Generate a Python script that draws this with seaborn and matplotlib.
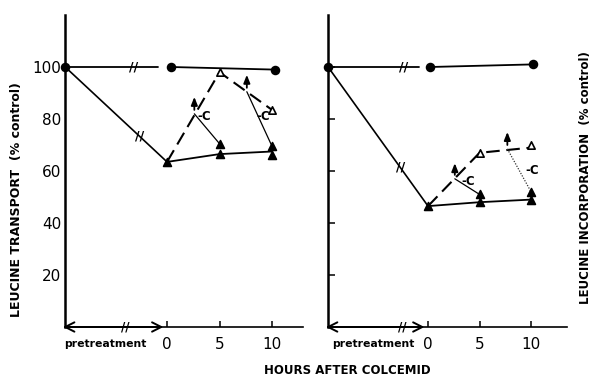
import matplotlib
matplotlib.use("Agg")
import matplotlib.pyplot as plt
import seaborn as sns

sns.set_theme(style="white")
plt.rcParams['font.family'] = ['DejaVu Sans']

# ---------------- data ----------------
PRE = -9.7                      # schematic position of the pretreatment point
hour_ticks = [0, 5, 10]
hour_labels = ["0", "5", "10"]
y_ticks = [20, 40, 60, 80, 100]
y_labels = ["20", "40", "60", "80", "100"]

# Left panel: leucine transport (% control)
L_ctrl_pre_x, L_ctrl_pre_y = [PRE, -0.9], [100, 100]
L_ctrl_x, L_ctrl_y = [0.4, 10.3], [100, 99]
L_colc_pre_x, L_colc_pre_y = [PRE, 0], [100, 63.5]
L_colc_x, L_colc_y = [0, 5, 10], [63.5, 66.5, 67.5]
L_rec_x, L_rec_y = [0, 5, 10], [63.5, 98, 83.5]
L_c1_x, L_c1_y = [2.6, 5], [82, 70.5]
L_c2_x, L_c2_y = [7.6, 10], [90.5, 69.5]
L_circ_x, L_circ_y = [PRE, 0.4, 10.3], [100, 100, 99]
L_ftri_x, L_ftri_y = [0, 5, 5, 10, 10], [63.5, 66.5, 70.5, 66, 69.5]
L_otri_x, L_otri_y = [5, 10], [98, 83.5]
L_arrow_x, L_arrow_y0, L_arrow_y1 = [2.6, 7.6], [83.5, 92], [88.5, 97]
L_minusC_x, L_minusC_y = [3.5, 9.2], [81, 81]
L_break_x, L_break_y = [-3.2, -2.6], [100, 73.3]
L_axis_break = -4.0
L_xmax = 12.95

# Right panel: leucine incorporation (% control)
R_ctrl_pre_x, R_ctrl_pre_y = [PRE, -0.9], [100, 100]
R_ctrl_x, R_ctrl_y = [0.2, 10.2], [100, 101]
R_colc_pre_x, R_colc_pre_y = [PRE, 0], [100, 46.5]
R_colc_x, R_colc_y = [0, 5, 10], [46.5, 48, 49]
R_rec_x, R_rec_y = [0, 5, 10], [46.5, 67, 69]
R_c1_x, R_c1_y = [2.6, 5], [57, 51]
R_c2_x, R_c2_y = [7.7, 10], [68.5, 52]
R_circ_x, R_circ_y = [PRE, 0.2, 10.2], [100, 100, 101]
R_ftri_x, R_ftri_y = [0, 5, 5, 10, 10], [46.5, 48, 51, 49, 52]
R_otri_x, R_otri_y = [5, 10], [67, 70]
R_arrow_x, R_arrow_y0, R_arrow_y1 = [2.6, 7.7], [58.5, 70], [63, 75]
R_minusC_x, R_minusC_y = [3.9, 10.1], [56, 60]
R_break_x, R_break_y = [-2.4, -2.7], [100, 61.4]
R_axis_break = -2.5
R_xmax = 13.5

# ---------------- figure ----------------
W, H = 593, 380
fig = plt.figure(figsize=(W / 100, H / 100), dpi=100)
axL = fig.add_axes([65.2 / W, 53 / H, 237.8 / W, 312 / H])
axR = fig.add_axes([328.1 / W, 53 / H, 239.0 / W, 312 / H])


def line(ax, x, y, lw=1.2, ls='-', color='black'):
    sns.lineplot(x=x, y=y, ax=ax, color=color, sort=False, estimator=None,
                 linewidth=lw, linestyle=ls, clip_on=False, zorder=3)


def points(ax, x, y, marker, face, s):
    sns.scatterplot(x=x, y=y, ax=ax, marker=marker, s=s, color=face,
                    edgecolor='black', linewidth=1.2, zorder=6, clip_on=False)


def panel(ax, d, xmax, left_labels):
    ax.set_xlim(PRE, xmax)
    ax.set_ylim(0, 120)
    dash = (0, (6.5, 3.2))
    line(ax, d['ctrl_pre_x'], d['ctrl_pre_y'], lw=1.3)
    line(ax, d['ctrl_x'], d['ctrl_y'], lw=1.3)
    line(ax, d['colc_pre_x'], d['colc_pre_y'], lw=1.2)
    line(ax, d['colc_x'], d['colc_y'], lw=1.3)
    line(ax, d['rec_x'], d['rec_y'], lw=1.5, ls=dash)
    line(ax, d['c1_x'], d['c1_y'], lw=0.9)
    line(ax, d['c2_x'], d['c2_y'], lw=d['c2_lw'], ls=d['c2_ls'], color=d['c2_col'])
    points(ax, d['circ_x'], d['circ_y'], 'o', 'black', 32)
    points(ax, d['ftri_x'], d['ftri_y'], '^', 'black', 32)
    points(ax, d['otri_x'], d['otri_y'], '^', 'white', 28)
    for x, y0, y1 in zip(d['arrow_x'], d['arrow_y0'], d['arrow_y1']):
        ax.annotate('', xy=(x, y1), xytext=(x, y0),
                    arrowprops=dict(arrowstyle='-|>,head_length=0.4,head_width=0.16',
                                    color='black', lw=1.3, shrinkA=0, shrinkB=0))
    for x, y in zip(d['minusC_x'], d['minusC_y']):
        ax.text(x, y, '-C', ha='center', va='center', fontsize=8.5,
                fontweight='bold', color='black', zorder=7)
    for x, y in zip(d['break_x'], d['break_y']):
        ax.text(x, y, '//', ha='center', va='center', fontsize=9,
                fontweight='bold', color='black', zorder=7)
    ax.text(d['axis_break'], 0, '//', ha='center', va='center', fontsize=8.5,
            fontweight='bold', color='black', zorder=7, clip_on=False)
    # double-headed arrow along the pretreatment segment
    ax.annotate('', xy=(-0.35, 0), xytext=(PRE - 0.2, 0), annotation_clip=False,
                arrowprops=dict(arrowstyle='<->,head_length=0.55,head_width=0.28',
                                color='black', lw=1.4, shrinkA=0, shrinkB=0))
    ax.text(d['pre_label_x'], -6.4, 'pretreatment', ha='center', va='center',
            fontsize=7.8, fontweight='bold', color='black')

    for side in ['top', 'right']:
        ax.spines[side].set_visible(False)
    ax.spines['left'].set_linewidth(1.8)
    ax.spines['bottom'].set_linewidth(1.2)
    ax.spines['left'].set_color('black')
    ax.spines['bottom'].set_color('black')
    ax.set_xticks(hour_ticks)
    ax.set_xticklabels(hour_labels, fontsize=11)
    ax.tick_params(axis='x', direction='in', length=4, width=1.1, pad=7,
                   colors='black', bottom=True)
    ax.set_yticks(y_ticks)
    if left_labels:
        ax.set_yticklabels(y_labels, fontsize=11)
        ax.tick_params(axis='y', length=0, pad=3, colors='black', left=True)
    else:
        ax.set_yticklabels([])
        ax.tick_params(axis='y', direction='in', length=5, width=1.1,
                       colors='black', left=True)
    ax.set_xlabel('')
    ax.set_ylabel('')
    ax.grid(False)
    ax.patch.set_alpha(0)


dL = dict(ctrl_pre_x=L_ctrl_pre_x, ctrl_pre_y=L_ctrl_pre_y, ctrl_x=L_ctrl_x, ctrl_y=L_ctrl_y,
          colc_pre_x=L_colc_pre_x, colc_pre_y=L_colc_pre_y, colc_x=L_colc_x, colc_y=L_colc_y,
          rec_x=L_rec_x, rec_y=L_rec_y, c1_x=L_c1_x, c1_y=L_c1_y, c2_x=L_c2_x, c2_y=L_c2_y,
          c2_lw=0.9, c2_ls='-', c2_col='black',
          circ_x=L_circ_x, circ_y=L_circ_y, ftri_x=L_ftri_x, ftri_y=L_ftri_y,
          otri_x=L_otri_x, otri_y=L_otri_y, arrow_x=L_arrow_x, arrow_y0=L_arrow_y0,
          arrow_y1=L_arrow_y1, minusC_x=L_minusC_x, minusC_y=L_minusC_y,
          break_x=L_break_x, break_y=L_break_y, axis_break=L_axis_break, pre_label_x=-5.9)
dR = dict(ctrl_pre_x=R_ctrl_pre_x, ctrl_pre_y=R_ctrl_pre_y, ctrl_x=R_ctrl_x, ctrl_y=R_ctrl_y,
          colc_pre_x=R_colc_pre_x, colc_pre_y=R_colc_pre_y, colc_x=R_colc_x, colc_y=R_colc_y,
          rec_x=R_rec_x, rec_y=R_rec_y, c1_x=R_c1_x, c1_y=R_c1_y, c2_x=R_c2_x, c2_y=R_c2_y,
          c2_lw=0.9, c2_ls=(0, (1, 1.2)), c2_col='#333333',
          circ_x=R_circ_x, circ_y=R_circ_y, ftri_x=R_ftri_x, ftri_y=R_ftri_y,
          otri_x=R_otri_x, otri_y=R_otri_y, arrow_x=R_arrow_x, arrow_y0=R_arrow_y0,
          arrow_y1=R_arrow_y1, minusC_x=R_minusC_x, minusC_y=R_minusC_y,
          break_x=R_break_x, break_y=R_break_y, axis_break=R_axis_break, pre_label_x=-5.3)

panel(axL, dL, L_xmax, True)
panel(axR, dR, R_xmax, False)

fig.text(17 / W, 1 - 200 / H, 'LEUCINE TRANSPORT  (% control)', rotation=90,
         ha='center', va='center', fontsize=9, fontweight='bold', color='black')
fig.text(586 / W, 1 - 178 / H, 'LEUCINE INCORPORATION  (% control)', rotation=90,
         ha='center', va='center', fontsize=8.5, fontweight='bold', color='black')
fig.text(347 / W, 1 - 371 / H, 'HOURS AFTER COLCEMID', ha='center', va='center',
         fontsize=8.5, fontweight='bold', color='black')

fig.savefig('out.png', dpi=100, facecolor='white')
